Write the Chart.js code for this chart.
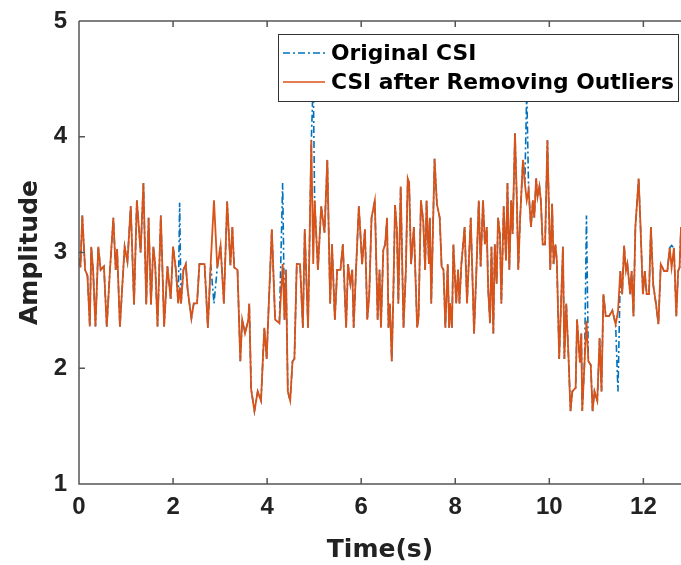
<!DOCTYPE html>
<html>
<head>
<meta charset="utf-8">
<script src="https://cdn.jsdelivr.net/npm/chart.js@4.4.1/dist/chart.umd.min.js"></script>
<style>
  body { margin: 0; background: #fff; }
  canvas { display: block; }
</style>
</head>
<body>
<canvas id="csi" width="681" height="565"></canvas>
<script>
// time stamps (s)
const times = [
  0.00, 0.03, 0.07, 0.13, 0.18, 0.23, 0.26, 0.30, 0.35, 0.41, 0.46, 0.53, 0.59, 0.66, 0.73, 0.78, 0.81, 0.87, 0.97, 1.03,
  1.10, 1.17, 1.23, 1.31, 1.37, 1.43, 1.48, 1.53, 1.58, 1.62, 1.67, 1.74, 1.81, 1.88, 1.95, 2.00, 2.06, 2.11, 2.14, 2.17,
  2.22, 2.27, 2.31, 2.39, 2.44, 2.51, 2.56, 2.67, 2.74, 2.80, 2.87, 2.94, 3.01, 3.08, 3.15, 3.22, 3.26, 3.30, 3.37, 3.43,
  3.47, 3.53, 3.60, 3.62, 3.66, 3.73, 3.80, 3.87, 3.94, 3.99, 4.03, 4.10, 4.17, 4.26, 4.33, 4.37, 4.40, 4.44, 4.49, 4.54,
  4.58, 4.63, 4.70, 4.76, 4.80, 4.87, 4.94, 4.98, 5.01, 5.08, 5.15, 5.22, 5.28, 5.34, 5.38, 5.44, 5.49, 5.56, 5.61, 5.68,
  5.72, 5.77, 5.81, 5.84, 5.89, 5.95, 6.02, 6.08, 6.13, 6.17, 6.22, 6.29, 6.35, 6.39, 6.42, 6.47, 6.51, 6.55, 6.58, 6.61,
  6.65, 6.68, 6.72, 6.76, 6.79, 6.84, 6.90, 6.95, 6.99, 7.02, 7.06, 7.12, 7.19, 7.22, 7.27, 7.32, 7.36, 7.39, 7.44, 7.46,
  7.49, 7.56, 7.61, 7.67, 7.71, 7.75, 7.79, 7.84, 7.87, 7.89, 7.93, 7.96, 8.02, 8.06, 8.09, 8.13, 8.20, 8.25, 8.33, 8.40,
  8.45, 8.50, 8.54, 8.59, 8.63, 8.67, 8.70, 8.74, 8.77, 8.81, 8.84, 8.88, 8.91, 8.95, 8.98, 9.03, 9.08, 9.11, 9.15, 9.19,
  9.22, 9.27, 9.31, 9.34, 9.38, 9.44, 9.48, 9.52, 9.56, 9.61, 9.65, 9.68, 9.72, 9.75, 9.79, 9.82, 9.86, 9.91, 9.96, 10.02,
  10.06, 10.09, 10.13, 10.16, 10.21, 10.25, 10.29, 10.32, 10.36, 10.41, 10.45, 10.49, 10.56, 10.59, 10.65, 10.68, 10.70, 10.75, 10.79, 10.83,
  10.88, 10.92, 10.96, 11.02, 11.07, 11.11, 11.15, 11.20, 11.27, 11.34, 11.41, 11.46, 11.51, 11.55, 11.59, 11.63, 11.66, 11.72, 11.75, 11.79,
  11.83, 11.90, 11.94, 11.99, 12.03, 12.07, 12.12, 12.16, 12.21, 12.27, 12.32, 12.37, 12.44, 12.51, 12.56, 12.60, 12.65, 12.70, 12.74, 12.77,
  12.80
]

// amplitude after outlier removal
const cleanCsi = [
  2.95, 2.87, 3.32, 2.85, 2.80, 2.36, 3.05, 2.85, 2.36, 3.05, 2.85, 2.88, 2.36, 2.86, 3.30, 2.85, 3.03, 2.36, 3.05, 2.92,
  3.40, 2.55, 3.45, 3.00, 3.60, 2.55, 3.30, 2.55, 3.05, 2.90, 2.36, 3.32, 2.36, 2.88, 2.60, 3.05, 2.85, 2.56, 2.70, 2.56,
  2.85, 2.90, 2.68, 2.43, 2.56, 2.56, 2.90, 2.90, 2.35, 2.90, 3.45, 2.87, 3.06, 2.56, 3.44, 2.89, 3.22, 2.87, 2.85, 2.06,
  2.42, 2.30, 2.42, 2.56, 1.82, 1.63, 1.80, 1.72, 2.35, 2.08, 2.50, 3.20, 2.42, 2.39, 2.90, 2.42, 2.85, 1.80, 1.72, 2.06,
  2.08, 2.90, 2.90, 2.35, 3.20, 2.35, 3.97, 2.90, 3.45, 2.85, 3.40, 3.17, 3.80, 2.56, 3.07, 2.42, 2.85, 2.85, 3.07, 2.35,
  2.90, 2.73, 2.85, 2.35, 2.85, 3.40, 2.90, 3.20, 2.42, 2.62, 3.30, 3.45, 2.42, 2.85, 2.35, 3.02, 3.07, 3.30, 2.35, 2.56,
  2.06, 2.56, 3.41, 3.19, 2.56, 3.57, 2.35, 2.85, 3.64, 3.60, 2.90, 3.22, 2.35, 2.44, 3.45, 3.27, 2.85, 3.45, 2.90, 3.30,
  2.56, 3.81, 3.42, 3.30, 2.88, 2.85, 2.35, 2.90, 2.35, 2.56, 2.35, 3.07, 2.56, 2.85, 2.56, 2.90, 3.22, 2.56, 3.30, 2.30,
  2.85, 3.45, 2.88, 3.45, 3.07, 3.22, 2.68, 2.39, 3.05, 2.30, 3.07, 2.73, 3.30, 3.16, 2.56, 3.40, 2.93, 3.60, 2.85, 3.45,
  3.16, 4.03, 3.45, 2.85, 3.30, 3.80, 3.60, 3.45, 3.54, 3.22, 3.45, 3.30, 3.64, 3.48, 3.57, 3.45, 3.07, 3.07, 3.97, 2.85,
  3.42, 2.90, 3.07, 2.93, 2.08, 2.56, 3.05, 2.08, 2.56, 2.08, 1.63, 1.80, 1.83, 2.42, 2.05, 2.30, 1.63, 2.06, 2.41, 2.06,
  2.03, 1.63, 1.80, 1.72, 2.26, 1.80, 2.64, 2.45, 2.45, 2.50, 2.38, 2.49, 2.84, 2.64, 3.06, 2.84, 2.90, 2.64, 2.84, 2.45,
  3.22, 3.64, 3.22, 2.64, 2.84, 2.64, 2.64, 3.22, 2.72, 2.55, 2.38, 2.90, 2.84, 2.84, 3.04, 2.87, 3.04, 2.45, 2.84, 2.87,
  3.22
]

// spikes of the original CSI that were removed
const outlierTimes = [2.14, 2.87, 4.33, 4.98, 9.52, 10.79, 11.46, 12.60]
const outlierValues = [3.43, 2.56, 3.60, 4.50, 4.40, 3.32, 1.80, 3.06]

const xTicks = [0, 2, 4, 6, 8, 10, 12]
const yTicks = [1, 2, 3, 4, 5]

const legendLabels = ['Original CSI', 'CSI after Removing Outliers']

const blue = '#0072BD'
const orange = '#D95319'
const axisColor = '#222'
const tickFont = '"Liberation Sans", Arial, Helvetica, sans-serif'
const labelFont = '"DejaVu Sans", "Liberation Sans", sans-serif'

const cleanPts = times.map((t, i) => ({x: t, y: cleanCsi[i]}))
const origPts = times.map((t, i) => {
    let k = outlierTimes.indexOf(t)
    return {x: t, y: k >= 0 ? outlierValues[k] : cleanCsi[i]}
})

// box, inward ticks and in-plot legend like the matlab figure
const framePlugin = {
    id: 'frame',
    afterDatasetsDraw(chart) {
        const ctx = chart.ctx
        const a = chart.chartArea
        const xs = chart.scales.x
        const ys = chart.scales.y
        ctx.save()
        ctx.strokeStyle = '#555'
        ctx.lineWidth = 1.5
        ctx.beginPath()
        ctx.moveTo(a.left, a.top); ctx.lineTo(a.right, a.top)
        ctx.moveTo(a.left, a.top); ctx.lineTo(a.left, a.bottom)
        ctx.lineTo(a.right, a.bottom)
        xTicks.forEach(v => {
            let px = xs.getPixelForValue(v)
            ctx.moveTo(px, a.bottom); ctx.lineTo(px, a.bottom - 6)
            ctx.moveTo(px, a.top); ctx.lineTo(px, a.top + 6)
        })
        yTicks.forEach(v => {
            let py = ys.getPixelForValue(v)
            ctx.moveTo(a.left, py); ctx.lineTo(a.left + 6, py)
        })
        ctx.stroke()

        // legend box
        const bx = 278, by = 34, bw = 400, bh = 67
        ctx.fillStyle = '#fff'
        ctx.fillRect(bx, by, bw, bh)
        ctx.strokeStyle = '#333'
        ctx.lineWidth = 1
        ctx.strokeRect(bx + 0.5, by + 0.5, bw, bh)

        const rows = [by + 19, by + 48]
        ctx.lineWidth = 1.5
        ctx.strokeStyle = blue
        ctx.setLineDash([7, 3, 2, 3])
        ctx.beginPath(); ctx.moveTo(bx + 5, rows[0]); ctx.lineTo(bx + 47, rows[0]); ctx.stroke()
        ctx.strokeStyle = orange
        ctx.setLineDash([])
        ctx.beginPath(); ctx.moveTo(bx + 5, rows[1]); ctx.lineTo(bx + 47, rows[1]); ctx.stroke()

        ctx.fillStyle = '#000'
        ctx.font = 'bold 21.8px ' + labelFont
        ctx.textBaseline = 'middle'
        ctx.textAlign = 'left'
        ctx.fillText(legendLabels[0], bx + 53, rows[0] + 1)
        ctx.fillText(legendLabels[1], bx + 53, rows[1] + 1)
        ctx.restore()
    }
}

var ctx = document.getElementById('csi')
var csiChart = new Chart(ctx, {
    type: 'line',
    data: {
        datasets: [{
            label: legendLabels[1],
            data: cleanPts,
            borderColor: orange,
            borderWidth: 1.8,
            pointRadius: 0,
            tension: 0,
            order: 0
        }, {
            label: legendLabels[0],
            data: origPts,
            borderColor: blue,
            borderWidth: 1.6,
            borderDash: [7, 3, 2, 3],
            pointRadius: 0,
            tension: 0,
            order: 1
        }]
    },
    options: {
        responsive: false,
        animation: false,
        layout: { padding: { top: 21, right: 0, left: 0, bottom: 0 } },
        scales: {
            x: {
                type: 'linear',
                min: 0,
                max: 12.8,
                grid: { display: false, drawTicks: false },
                border: { display: false },
                ticks: {
                    stepSize: 2,
                    includeBounds: false,
                    padding: 9,
                    color: axisColor,
                    font: { family: tickFont, size: 24, weight: 'bold' }
                },
                title: {
                    display: true,
                    text: 'Time(s)',
                    color: axisColor,
                    padding: { top: 0, bottom: 2 },
                    font: { family: labelFont, size: 25, weight: 'bold', lineHeight: 1 }
                },
                afterFit: function(scale) {
                    scale.height = 81
                    scale.paddingLeft = 0
                    scale.paddingRight = 0
                }
            },
            y: {
                min: 1,
                max: 5,
                grid: { display: false, drawTicks: false },
                border: { display: false },
                ticks: {
                    stepSize: 1,
                    padding: 12,
                    color: axisColor,
                    font: { family: tickFont, size: 24, weight: 'bold' }
                },
                title: {
                    display: true,
                    text: 'Amplitude',
                    color: axisColor,
                    padding: { top: 18, bottom: 0 },
                    font: { family: labelFont, size: 25, weight: 'bold', lineHeight: 1 }
                },
                afterFit: function(scale) {
                    scale.width = 79
                    scale.paddingTop = 0
                    scale.paddingBottom = 0
                }
            }
        },
        plugins: {
            legend: { display: false },
            tooltip: { enabled: false }
        }
    },
    plugins: [framePlugin]
})
</script>
</body>
</html>
